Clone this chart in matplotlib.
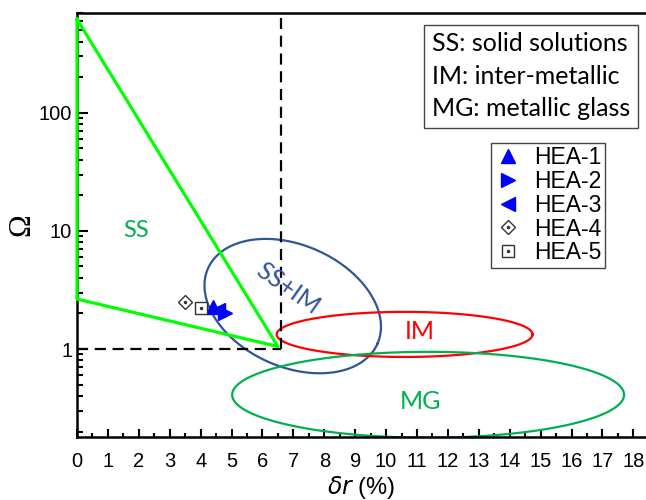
import numpy as np
import matplotlib
matplotlib.use("Agg")
import matplotlib.pyplot as plt
from matplotlib.legend_handler import HandlerTuple

plt.rcParams['font.family'] = ['Liberation Sans', 'DejaVu Sans']

# SS region (green polygon), delta r in %, Omega
ss_delta = [0, 0, 6.5, 0]
ss_omega = [620, 2.65, 1.05, 620]

# criteria lines
delta_crit = 6.6
omega_crit = 1.0

# phase ellipses: centre (delta, Omega), semi-axes in delta units, tilt on screen (deg)
ell_names = ['SS+IM', 'IM', 'MG']
ell_cx = [6.98, 10.6, 11.36]
ell_cy = [2.31, 1.33, 0.41]
ell_a = [3.0, 4.14, 6.34]
ell_b = [1.97, 0.73, 1.39]
ell_ang = [-24, 0, 0]
ell_colors = ['#2f5597', '#ff0000', '#00b050']

# alloys
hea_labels = ['HEA-1', 'HEA-2', 'HEA-3', 'HEA-4', 'HEA-5']
hea_delta = [4.4, 4.8, 4.57, 3.51, 4.0]
hea_omega = [2.27, 2.02, 2.14, 2.5, 2.24]
hea_markers = ['^', '>', '<', 'D', 's']

xlim = (0, 18.41)
ylim = (0.18, 700)

fig = plt.figure(figsize=(6.46, 5.0), dpi=100)
ax = fig.add_axes([0.1192, 0.126, 1 - 0.1192, 0.974 - 0.126])
ax.set_yscale('log')
ax.set_xlim(*xlim)
ax.set_ylim(*ylim)

# screen aspect: pixels per delta unit vs pixels per decade
w_px = fig.get_figwidth() * fig.dpi * (1 - 0.1192)
h_px = fig.get_figheight() * fig.dpi * (0.974 - 0.126)
px_x = w_px / (xlim[1] - xlim[0])
px_dec = h_px / np.log10(ylim[1] / ylim[0])

t = np.linspace(0, 2 * np.pi, 400)
for cx, cy, a, b, ang, c in zip(ell_cx, ell_cy, ell_a, ell_b, ell_ang, ell_colors):
    r = np.radians(ang)
    u = a * np.cos(t) * np.cos(r) - b * np.sin(t) * np.sin(r)
    v = a * np.cos(t) * np.sin(r) + b * np.sin(t) * np.cos(r)
    ax.plot(cx + u, cy * 10 ** (v * px_x / px_dec), color=c, lw=1.6, zorder=2)

ax.plot(ss_delta, ss_omega, color='#00ff00', lw=2.3, zorder=3, clip_on=False)

ax.plot([delta_crit, delta_crit], [omega_crit, ylim[1]], color='black', lw=1.6,
        ls=(0, (5, 3)), zorder=2)
ax.plot([0, delta_crit], [omega_crit, omega_crit], color='black', lw=1.6,
        ls=(0, (5, 3)), zorder=2)

cal = ['Lato', 'DejaVu Sans']
ax.text(1.9, 10, 'SS', color='#00b050', fontsize=17, ha='center', va='center', family=cal)
ax.text(6.83, 3.29, 'SS+IM', color='#2f5597', fontsize=18, ha='center', va='center',
        rotation=-35, family=cal)
ax.text(11.1, 1.42, 'IM', color='#ff0000', fontsize=18, ha='center', va='center', family=cal)
ax.text(11.1, 0.36, 'MG', color='#00b050', fontsize=18, ha='center', va='center', family=cal)

handles = []
for i, (x, y, m) in enumerate(zip(hea_delta, hea_omega, hea_markers)):
    if i < 3:
        h, = ax.plot([x], [y], ls='none', marker=m, ms=10, color='blue', mec='blue', zorder=4)
        handles.append(h)
    else:
        h, = ax.plot([x], [y], ls='none', marker=m, ms=7 if m == 'D' else 8, mfc='white',
                     mec='#333333', mew=1.0, zorder=4)
        d, = ax.plot([x], [y], ls='none', marker='o', ms=1.5, color='#333333', zorder=5)
        handles.append((h, d))

leg = ax.legend(handles, hea_labels, loc='upper left', bbox_to_anchor=(0.760, 0.714),
                bbox_transform=fig.transFigure, fontsize=16.5, frameon=True,
                fancybox=False, edgecolor='#444444', framealpha=1, borderpad=0.15,
                borderaxespad=0, labelspacing=0.03, handlelength=1.2, handletextpad=0.55,
                handler_map={tuple: HandlerTuple(ndivide=1, pad=0)})
leg.get_frame().set_linewidth(1.0)

ax.text(0.6235, 0.955, 'SS: solid solutions\nIM: inter-metallic\nMG: metallic glass',
        transform=ax.transAxes, ha='left', va='top', fontsize=18, family=cal,
        linespacing=1.5,
        bbox=dict(boxstyle='square,pad=0.3', fc='white', ec='#444444', lw=1.0))

ax.set_xticks(range(0, 19))
ax.set_xticks(np.arange(0.5, 18.5, 1), minor=True)
ax.set_yticks([1, 10, 100])
ax.set_yticklabels(['1', '10', '100'])
ax.yaxis.set_minor_locator(matplotlib.ticker.LogLocator(base=10, subs=np.arange(2, 10)))
ax.yaxis.set_minor_formatter(matplotlib.ticker.NullFormatter())
ax.tick_params(which='both', direction='in', top=False, right=False, labelsize=14.5, width=1.5)
ax.tick_params(axis='y', which='major', length=8)
ax.tick_params(axis='y', which='minor', length=4)
ax.tick_params(axis='x', which='major', length=6)
ax.tick_params(axis='x', which='minor', length=3)
ax.tick_params(axis='x', pad=11)

for s in ['left', 'bottom', 'top']:
    ax.spines[s].set_linewidth(1.8)
ax.spines['right'].set_visible(False)

ax.set_ylabel('\u03a9', family=['Liberation Serif', 'DejaVu Serif'], fontsize=22, labelpad=2)
ax.set_xlabel(r'$\delta r$ (%)', fontsize=17, labelpad=2)

fig.savefig('out.png', dpi=100)
